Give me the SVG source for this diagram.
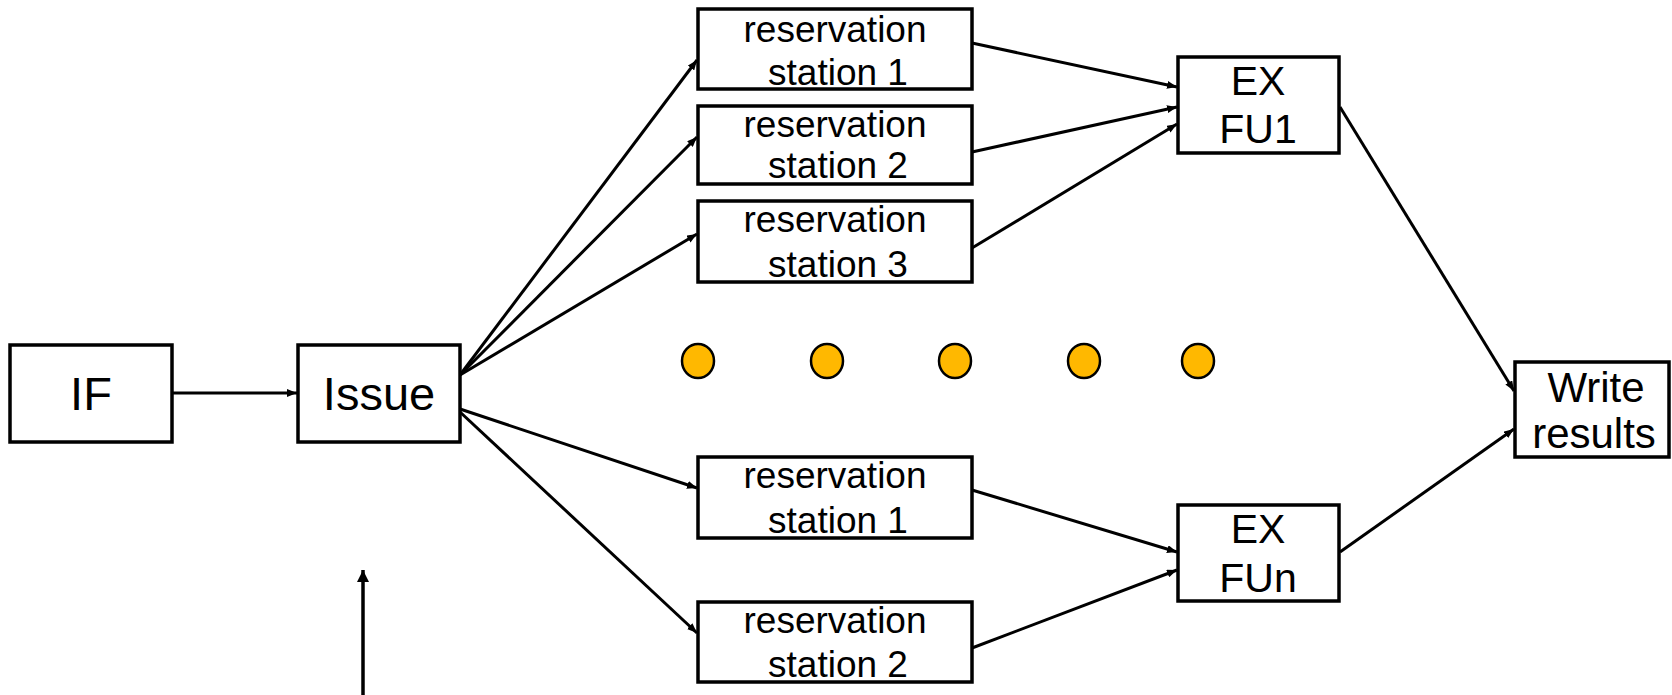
<svg xmlns="http://www.w3.org/2000/svg" width="1672" height="695" viewBox="0 0 1672 695">
  <style>
    .box { fill: #ffffff; stroke: #000000; stroke-width: 3.5; }
    .lbl { font-family: "Liberation Sans", Arial, sans-serif; fill: #000000; text-anchor: middle; }
    .big { font-size: 47px; }
    .mid { font-size: 37px; }
    .ex { font-size: 41px; }
    .wr { font-size: 42px; }
    .edge { stroke: #000000; stroke-width: 3; fill: none; marker-end: url(#arrow); }
    .dot { fill: #FFB800; stroke: #000000; stroke-width: 2.5; }
  </style>
  <defs>
    <marker id="arrow" viewBox="0 0 10 8" refX="10" refY="4" markerWidth="10" markerHeight="8" markerUnits="userSpaceOnUse" orient="auto">
      <path d="M0,0 L10,4 L0,8 z" fill="#000000"/>
    </marker>
    <marker id="arrowBig" viewBox="0 0 12 12" refX="12" refY="6" markerWidth="12" markerHeight="12" markerUnits="userSpaceOnUse" orient="auto">
      <path d="M0,0 L12,6 L0,12 z" fill="#000000"/>
    </marker>
  </defs>

  <rect width="1672" height="695" fill="#ffffff"/>

  <g id="connectors">
    <line class="edge" x1="172" y1="393" x2="297" y2="393"/>
    <line class="edge" x1="460" y1="375" x2="697" y2="60"/>
    <line class="edge" x1="460" y1="375" x2="697" y2="137"/>
    <line class="edge" x1="460" y1="375" x2="697" y2="234"/>
    <line class="edge" x1="460" y1="409" x2="697" y2="488"/>
    <line class="edge" x1="460" y1="412" x2="697" y2="633"/>
    <line class="edge" x1="972" y1="43" x2="1177" y2="87"/>
    <line class="edge" x1="972" y1="152" x2="1177" y2="107"/>
    <line class="edge" x1="972" y1="248" x2="1177" y2="124"/>
    <line class="edge" x1="972" y1="490" x2="1177" y2="552"/>
    <line class="edge" x1="972" y1="648" x2="1177" y2="570"/>
    <line class="edge" x1="1340" y1="107" x2="1514" y2="391"/>
    <line class="edge" x1="1340" y1="552" x2="1514" y2="429"/>
    <line x1="363" y1="695" x2="363" y2="570" stroke="#000000" stroke-width="3.5" marker-end="url(#arrowBig)"/>
  </g>

  <g id="if">
    <rect class="box" x="10" y="345" width="162" height="97"/>
    <text class="lbl big" x="91" y="410">IF</text>
  </g>
  <g id="issue">
    <rect class="box" x="298" y="345" width="162" height="97"/>
    <text class="lbl big" x="379" y="410">Issue</text>
  </g>

  <g id="rs1-top">
    <rect class="box" x="698" y="9" width="274" height="80"/>
    <text class="lbl mid" x="835" y="42">reservation</text>
    <text class="lbl mid" x="838" y="85">station 1</text>
  </g>
  <g id="rs2-top">
    <rect class="box" x="698" y="106" width="274" height="78"/>
    <text class="lbl mid" x="835" y="137">reservation</text>
    <text class="lbl mid" x="838" y="178">station 2</text>
  </g>
  <g id="rs3-top">
    <rect class="box" x="698" y="201" width="274" height="81"/>
    <text class="lbl mid" x="835" y="232">reservation</text>
    <text class="lbl mid" x="838" y="277">station 3</text>
  </g>
  <g id="rs1-bottom">
    <rect class="box" x="698" y="457" width="274" height="81"/>
    <text class="lbl mid" x="835" y="488">reservation</text>
    <text class="lbl mid" x="838" y="533">station 1</text>
  </g>
  <g id="rs2-bottom">
    <rect class="box" x="698" y="602" width="274" height="80"/>
    <text class="lbl mid" x="835" y="633">reservation</text>
    <text class="lbl mid" x="838" y="677">station 2</text>
  </g>

  <g id="ex-fu1">
    <rect class="box" x="1178" y="57" width="161" height="96"/>
    <text class="lbl ex" x="1258" y="95">EX</text>
    <text class="lbl ex" x="1258" y="143">FU1</text>
  </g>
  <g id="ex-fun">
    <rect class="box" x="1178" y="505" width="161" height="96"/>
    <text class="lbl ex" x="1258" y="543">EX</text>
    <text class="lbl ex" x="1258" y="592">FUn</text>
  </g>

  <g id="write-results">
    <rect class="box" x="1515" y="362" width="154" height="95"/>
    <text class="lbl wr" x="1596" y="402">Write</text>
    <text class="lbl wr" x="1594" y="448">results</text>
  </g>

  <g id="ellipsis">
    <ellipse class="dot" cx="698" cy="361" rx="16" ry="17"/>
    <ellipse class="dot" cx="827" cy="361" rx="16" ry="17"/>
    <ellipse class="dot" cx="955" cy="361" rx="16" ry="17"/>
    <ellipse class="dot" cx="1084" cy="361" rx="16" ry="17"/>
    <ellipse class="dot" cx="1198" cy="361" rx="16" ry="17"/>
  </g>
</svg>
